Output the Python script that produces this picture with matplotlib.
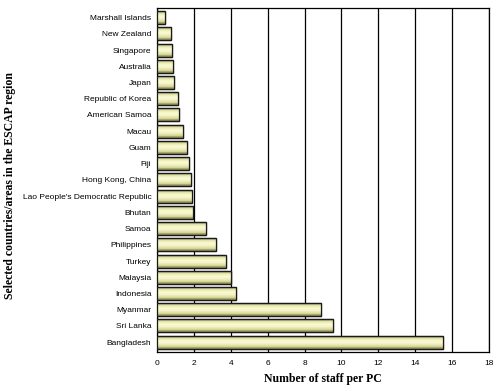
import numpy as np
import matplotlib.pyplot as plt

# Staff per PC (top to bottom)
countries = ['Marshall Islands', 'New Zealand', 'Singapore', 'Australia', 'Japan',
             'Republic of Korea', 'American Samoa', 'Macau', 'Guam', 'Fiji',
             'Hong Kong, China', "Lao People's Democratic Republic", 'Bhutan',
             'Samoa', 'Philippines', 'Turkey', 'Malaysia', 'Indonesia',
             'Myanmar', 'Sri Lanka', 'Bangladesh']
staff_per_pc = [0.45, 0.75, 0.8, 0.85, 0.9, 1.15, 1.2, 1.4, 1.65, 1.75, 1.83,
                1.88, 1.97, 2.65, 3.2, 3.75, 4.02, 4.27, 8.88, 9.53, 15.5]
xticks = list(range(0, 19, 2))

fig = plt.figure(figsize=(5, 3.91), dpi=100)
ax = fig.add_axes([0.314, 0.1, 0.664, 0.88])

y = np.arange(len(countries))[::-1]
bars = ax.barh(y, staff_per_pc, height=0.8, color='#ECECB0',
               edgecolor='#1a1a1a', linewidth=0.9, zorder=3)

# shaded cylinder look for each bar
grad = np.array([0.5, 0.8, 0.95, 1.0, 0.95, 0.85, 0.7, 0.45])[:, None]
cmap = plt.matplotlib.colors.LinearSegmentedColormap.from_list(
    'bar', ['#7c7c4a', '#d4d494', '#fafad2'])
for b in bars:
    x0, y0 = b.get_x(), b.get_y()
    w, h = b.get_width(), b.get_height()
    ax.imshow(grad, cmap=cmap, vmin=0.4, vmax=1.0, aspect='auto',
              extent=[x0, x0 + w, y0, y0 + h], zorder=3.5, interpolation='bilinear')
    ax.add_patch(plt.Rectangle((x0, y0), w, h, fill=False,
                               edgecolor='#1a1a1a', linewidth=0.9, zorder=4))

ax.set_xlim(0, 18)
ax.set_ylim(-0.6, len(countries) - 0.4)
ax.set_xticks(xticks)
ax.set_xticklabels([str(t) for t in xticks], fontsize=6, family='Liberation Sans')
ax.set_yticks(y)
ax.set_yticklabels(countries, fontsize=6, family='Liberation Sans')
ax.tick_params(axis='y', length=0, pad=4)
ax.tick_params(axis='x', length=0, pad=6)
ax.xaxis.grid(True, color='black', linewidth=0.9, zorder=0)
ax.set_axisbelow(True)
for s in ax.spines.values():
    s.set_linewidth(0.9)

ax.set_xlabel('Number of staff per PC', family='Liberation Serif',
              fontweight='bold', fontsize=8.5)
ax.xaxis.set_label_coords(0.5, -0.062)
ax.xaxis.label.set_va('top')
ax.set_ylabel('Selected countries/areas in the ESCAP region', family='Liberation Serif',
              fontweight='bold', fontsize=8.5)
ax.yaxis.set_label_coords(-0.425, 0.485)

fig.savefig('out.png', dpi=100)
